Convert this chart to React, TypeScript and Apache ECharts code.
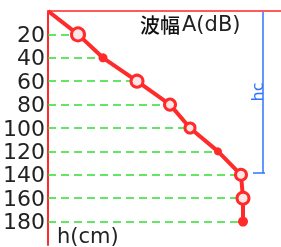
import React, { useEffect, useRef } from "react";
import * as echarts from "echarts";

const depths = [0, 20, 40, 60, 80, 100, 120, 140, 160, 180];
const amplitudes = [0, 30, 55, 89, 122, 142, 170, 193, 195, 195];
const markerSizes = [0, 13, 9, 12, 11, 10, 8, 11, 12, 10];
const hollow = [false, true, false, true, true, true, false, true, true, false];
const yTicks = [20, 40, 60, 80, 100, 120, 140, 160, 180];
const titleCJK = "波幅";
const titleUnit = "A(dB)";
const yName = "h(cm)";
const hcLabel = "hc";

const thinFont = "'DejaVu Sans ExtraLight', 'DejaVu Sans', sans-serif";

export default function App() {
  const ref = useRef<HTMLDivElement>(null);
  useEffect(() => {
    const chart = echarts.init(ref.current!, null, { renderer: "svg" });
    const red = "#ff2a2a";
    const green = "#33dd33";
    const blue = "#2f74ff";
    const data = depths.map((d, i) => ({
      value: [amplitudes[i], d],
      symbolSize: markerSizes[i],
      itemStyle: {
        color: hollow[i] ? "#ffe6e6" : red,
        borderColor: red,
        borderWidth: hollow[i] ? 3 : 0,
      },
    }));
    const markLines = depths
      .map((d, i) => ({ d, a: amplitudes[i] }))
      .filter((p) => yTicks.includes(p.d))
      .map((p) => [{ coord: [0, p.d] }, { coord: [p.a, p.d] }]);
    chart.setOption({
      animation: false,
      grid: { left: 48, right: 0, top: 11, bottom: 2, containLabel: false },
      xAxis: {
        type: "value",
        position: "top",
        min: 0,
        max: 233,
        axisLine: { show: true, lineStyle: { color: "#ff5a5a", width: 2 } },
        axisTick: { show: false },
        axisLabel: { show: false },
        splitLine: { show: false },
      },
      yAxis: {
        type: "value",
        inverse: true,
        min: 0,
        max: 200,
        interval: 20,
        axisLine: { show: true, onZero: false, lineStyle: { color: red, width: 2 } },
        axisTick: { show: false },
        splitLine: { show: false },
        axisLabel: {
          margin: 3,
          fontSize: 22,
          lineHeight: 19,
          fontFamily: thinFont,
          color: "#222",
          formatter: (v: number) => (yTicks.includes(v) ? String(v) : ""),
        },
      },
      series: [
        {
          type: "line",
          data,
          symbol: "circle",
          showSymbol: true,
          lineStyle: { color: red, width: 4 },
          z: 5,
          markLine: {
            silent: true,
            symbol: "none",
            label: { show: false },
            lineStyle: { color: green, type: [8, 5], width: 1.5 },
            data: markLines,
            z: 2,
          },
        },
      ],
      graphic: [
        {
          type: "line",
          shape: { x1: 263, y1: 11, x2: 263, y2: 173 },
          style: { stroke: blue, lineWidth: 1.5 },
        },
        {
          type: "line",
          shape: { x1: 253, y1: 11, x2: 264, y2: 11 },
          style: { stroke: blue, lineWidth: 2 },
        },
        {
          type: "line",
          shape: { x1: 253, y1: 173, x2: 265, y2: 173 },
          style: { stroke: blue, lineWidth: 1.5 },
        },
        {
          type: "text",
          x: 257,
          y: 92,
          rotation: Math.PI / 2,
          style: {
            text: hcLabel,
            fill: blue,
            fontSize: 16,
            fontFamily: "DejaVu Sans",
            align: "center",
            verticalAlign: "middle",
          },
        },
        {
          type: "text",
          x: 140,
          y: 24,
          style: {
            text: titleCJK,
            fill: "#111",
            fontSize: 20,
            fontFamily: "Noto Sans CJK SC",
            fontWeight: 500,
            verticalAlign: "middle",
          },
        },
        {
          type: "text",
          x: 182,
          y: 24,
          style: {
            text: titleUnit,
            fill: "#222",
            fontSize: 21,
            fontFamily: thinFont,
            verticalAlign: "middle",
          },
        },
        {
          type: "text",
          x: 57,
          y: 236,
          style: {
            text: yName,
            fill: "#222",
            fontSize: 21,
            fontFamily: thinFont,
            verticalAlign: "middle",
          },
        },
      ],
    });
    return () => chart.dispose();
  }, []);
  return (
    <div
      ref={ref}
      style={{ position: "fixed", left: 0, top: 0, width: 281, height: 247 }}
    />
  );
}
